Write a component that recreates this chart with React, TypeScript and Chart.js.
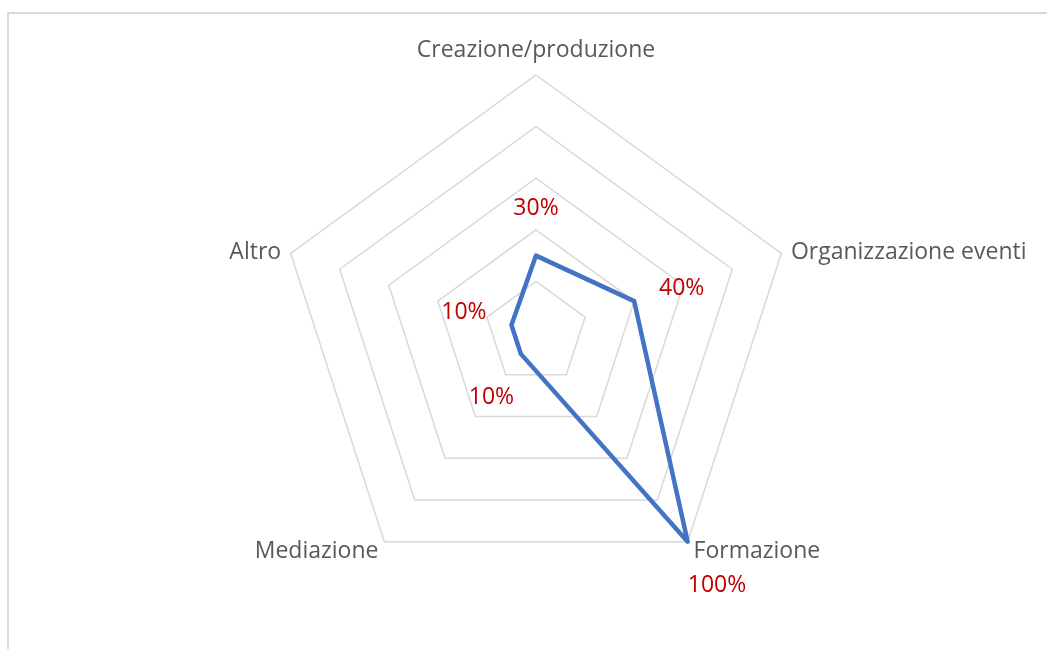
import React, { useEffect, useRef } from "react";
import { Chart, registerables } from "chart.js";

Chart.register(...registerables);

const categories = ["Creazione/produzione", "Organizzazione eventi", "Formazione", "Mediazione", "Altro"];
const values = [30, 40, 100, 10, 10];
const valueLabels = ["30%", "40%", "100%", "10%", "10%"];
const gridTicks = [0, 20, 40, 60, 80, 100];

const FONT = "'Open Sans', sans-serif";

const framePlugin = {
  id: "frame",
  beforeDraw(chart: any) {
    const ctx = chart.ctx;
    ctx.save();
    ctx.fillStyle = "#ffffff";
    ctx.fillRect(0, 0, chart.width, chart.height);
    ctx.strokeStyle = "#d9d9d9";
    ctx.lineWidth = 2;
    ctx.beginPath();
    ctx.moveTo(8, chart.height + 5);
    ctx.lineTo(8, 13);
    ctx.lineTo(chart.width + 5, 13);
    ctx.stroke();
    ctx.restore();
  },
};

const labelsPlugin = {
  id: "customLabels",
  afterDraw(chart: any) {
    const scale = chart.scales.r;
    const ctx = chart.ctx;
    ctx.save();
    // category labels
    ctx.font = `23px ${FONT}`;
    ctx.fillStyle = "#595959";
    categories.forEach((label, i) => {
      const p = scale.getPointPosition(i, scale.drawingArea + 10);
      const c = Math.cos(p.angle);
      if (Math.abs(c) < 0.1) {
        ctx.textAlign = "center";
        ctx.textBaseline = "alphabetic";
        ctx.fillText(label, p.x, p.y - 8);
      } else {
        ctx.textAlign = c > 0 ? "left" : "right";
        ctx.textBaseline = "middle";
        ctx.fillText(label, p.x, p.y + 2);
      }
    });
    // value labels
    ctx.font = `23px ${FONT}`;
    ctx.fillStyle = "#C00000";
    ctx.textAlign = "center";
    ctx.textBaseline = "middle";
    values.forEach((v, i) => {
      const d = scale.getDistanceFromCenterForValue(v);
      const p = scale.getPointPosition(i, d + 50);
      ctx.fillText(valueLabels[i], p.x, p.y + 3);
    });
    ctx.restore();
  },
};

export default function App() {
  const ref = useRef<HTMLCanvasElement | null>(null);
  useEffect(() => {
    if (!ref.current) return;
    const chart = new Chart(ref.current, {
      type: "radar",
      data: {
        labels: categories,
        datasets: [
          {
            data: values,
            borderColor: "#4472C4",
            borderWidth: 4.5,
            borderJoinStyle: "round",
            borderCapStyle: "round",
            fill: false,
            pointRadius: 0,
            pointHoverRadius: 0,
          },
        ],
      },
      options: {
        responsive: false,
        animation: false,
        events: [],
        layout: { padding: { top: 75, bottom: 58, left: 278, right: 253 } },
        plugins: { legend: { display: false }, tooltip: { enabled: false } },
        scales: {
          r: {
            min: gridTicks[0],
            max: gridTicks[gridTicks.length - 1],
            ticks: { display: false, stepSize: 20 },
            grid: { color: "#d9d9d9", lineWidth: 1.5, circular: false },
            angleLines: { display: false },
            pointLabels: { display: false },
          },
        },
      },
      plugins: [framePlugin, labelsPlugin],
    });
    return () => chart.destroy();
  }, []);
  return (
    <div style={{ position: "absolute", left: 0, top: 0, width: 1047, height: 649, overflow: "hidden" }}>
      <canvas ref={ref} width={1047} height={649} style={{ display: "block" }} />
    </div>
  );
}
